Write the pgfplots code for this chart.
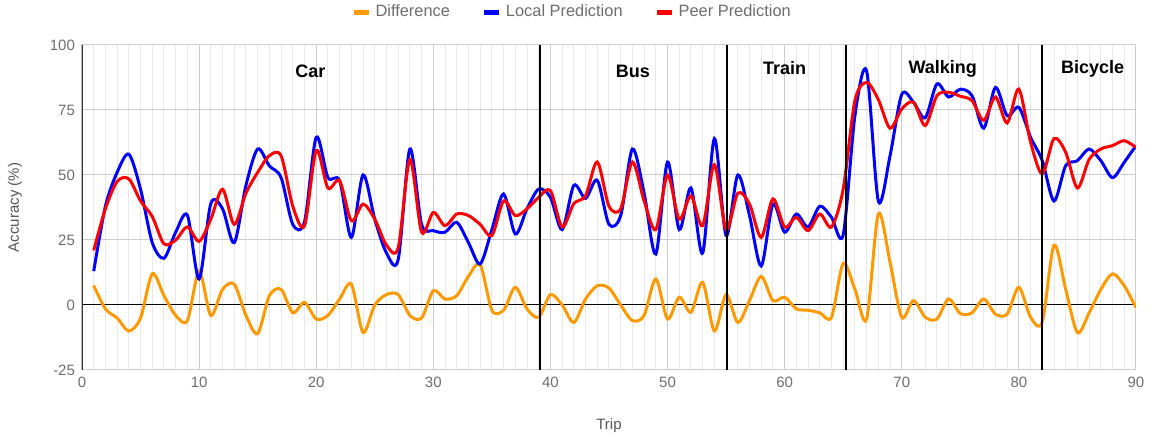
\documentclass[border=0pt]{standalone}
\usepackage{fontspec}
\setmainfont{Liberation Sans}
\usepackage{pgfplots}
\usepackage{pgfplotstable}
\pgfplotsset{compat=1.18}
\definecolor{cDiff}{HTML}{FF9900}
\definecolor{cLocal}{HTML}{0000FF}
\definecolor{cPeer}{HTML}{FF0000}
\definecolor{cTick}{HTML}{6E6E6E}
\definecolor{cLab}{HTML}{555555}
\definecolor{cGridMaj}{HTML}{CCCCCC}
\definecolor{cGridMin}{HTML}{E8E8E8}

\pgfplotstableread{
trip local peer diff
1 13 21 7.5
2 38 37 -1.5
3 51 47.5 -5
4 58 48.5 -10
5 44.5 40 -5
6 24 34 12
7 18 23.5 3.6
8 28 25 -4
9 34.5 30 -6
10 10 24.5 13
11 39 33 -4
12 37 44.5 6
13 24 31 8
14 46 43 -4
15 60 51 -11
16 53.5 57.4 3.6
17 49 57.4 6
18 31 38 -3
19 32 30.5 1
20 64.5 59.4 -5.4
21 49 45 -4
22 47.8 47.8 2.3
23 26 32.4 8
24 50 38.8 -10.5
25 33 33 0
26 20 23 4
27 17.5 22 4
28 60 56 -4
29 31 28 -5
30 28.6 35.6 5.5
31 28 30.5 2.3
32 31.8 35 3.6
33 24 34.4 11
34 15.8 31 15.5
35 29 26.7 -2
36 42.7 40 -2
37 27.3 34.4 6.8
38 37 37 -1.5
39 44.6 41.4 -4.7
40 41.4 44 4
41 29 30 0
42 46 39 -6.7
43 41 42 2.3
44 48 55 7.4
45 31 38 6.5
46 34.4 37 0
47 60 55 -6
48 43 40 -4
49 19.6 29 10
50 55 50 -5.4
51 29 33 3
52 45 42 -2.8
53 20 30.5 8.7
54 64 54 -10
55 26.7 29 4
56 50 43 -6.7
57 34.4 38.8 1.7
58 15 26 11
59 38.8 40.8 1.7
60 28 30 3
61 35 33.7 -1.5
62 30 28.6 -2
63 38 35 -3
64 33.7 30 -4.7
65 27 44.6 16
66 72.8 78.6 6
67 90 85.6 -5.4
68 40 79 35
69 57.4 68 16.4
70 81 75.4 -4.7
71 78 78 1.7
72 72 69 -4.7
73 85 80.5 -5.4
74 80 81.8 2.3
75 83 80.3 -3.3
76 80.5 78.6 -3
77 68 71 2.3
78 83.7 80 -3.5
79 72.8 70 -3.5
80 76 83 6.8
81 64.5 62.6 -4.7
82 55.5 50.4 -6.5
83 40 64 23
84 53.6 58.7 6
85 55.5 45 -10.6
86 60 56 -3
87 55.5 60 6
88 49 61.3 12
89 54.9 63.2 7.4
90 61.3 60.6 -1
}\data

\begin{document}
\begin{tikzpicture}
\useasboundingbox (0,0) rectangle (576.5pt,219.5pt);
\begin{axis}[
  at={(41pt,34.5pt)}, anchor=south west,
  scale only axis, width=527pt, height=162.5pt,
  xmin=0, xmax=90, ymin=-25, ymax=100,
  xtick={0,10,...,90}, minor x tick num=9,
  ytick={-25,0,25,50,75,100},
  grid=both,
  major grid style={cGridMaj, line width=0.5pt},
  minor grid style={cGridMin, line width=0.5pt},
  axis line style={cGridMaj, line width=0.5pt},
  major tick length=0pt, minor tick length=0pt,
  ticklabel style={font=\fontsize{7.5}{9}\selectfont, text=cTick},
  /pgf/number format/assume math mode=true,
  xlabel={Trip}, ylabel={Accuracy (\%)},
  label style={font=\fontsize{7.5}{9}\selectfont, text=cLab},
  xlabel style={at={(axis description cs:0.5,-0.172)}, anchor=center},
  ylabel style={at={(axis description cs:-0.0636,0.5)}, anchor=center},
  legend style={at={(axis description cs:0.466,1.1)}, anchor=center,
    draw=none, fill=none, font=\fontsize{8.2}{9}\selectfont, text=cTick,
    /tikz/every even column/.append style={column sep=14pt}},
  legend columns=3,
  legend image code/.code={\draw[line width=2.5pt] (0pt,0pt) -- (7.5pt,0pt);},
]
\addplot[black, line width=0.5pt, forget plot] coordinates {(0,0) (90,0)};
\addplot[black!80, line width=0.6pt, forget plot] coordinates {(0,-25) (0,100)};
\addplot[cDiff, line width=1.5pt, smooth, tension=0.5] table[x=trip, y=diff] {\data};
\addlegendentry{Difference}
\addplot[cLocal, line width=1.5pt, smooth, tension=0.5] table[x=trip, y=local] {\data};
\addlegendentry{Local Prediction}
\addplot[cPeer, line width=1.5pt, smooth, tension=0.5] table[x=trip, y=peer] {\data};
\addlegendentry{Peer Prediction}
\addplot[black, line width=1pt, forget plot] coordinates {(39.1,-25) (39.1,100)};
\addplot[black, line width=1pt, forget plot] coordinates {(55.05,-25) (55.05,100)};
\addplot[black, line width=1pt, forget plot] coordinates {(65.2,-25) (65.2,100)};
\addplot[black, line width=1pt, forget plot] coordinates {(82.0,-25) (82.0,100)};
\node[font=\bfseries\fontsize{9}{10}\selectfont] at (axis cs:19.5,90) {Car};
\node[font=\bfseries\fontsize{9}{10}\selectfont] at (axis cs:47.05,90) {Bus};
\node[font=\bfseries\fontsize{9}{10}\selectfont] at (axis cs:60,91) {Train};
\node[font=\bfseries\fontsize{9}{10}\selectfont] at (axis cs:73.5,91) {Walking};
\node[font=\bfseries\fontsize{9}{10}\selectfont] at (axis cs:86.3,91) {Bicycle};
\end{axis}
\end{tikzpicture}
\end{document}
